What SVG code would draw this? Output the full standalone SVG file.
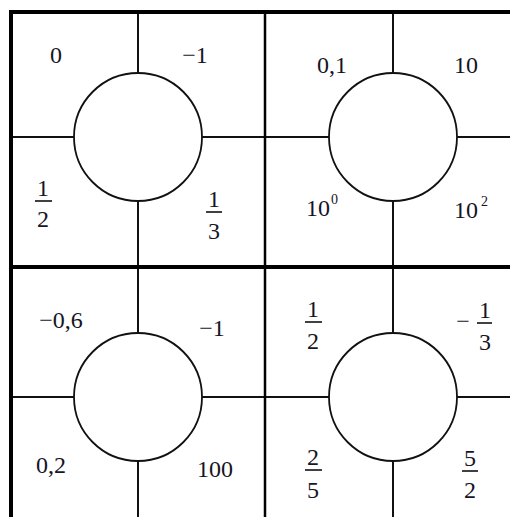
<svg xmlns="http://www.w3.org/2000/svg" width="510" height="517" viewBox="0 0 510 517">
<style>
.thick{stroke:#000;stroke-width:4;fill:none}
.mid{stroke:#000;stroke-width:2.5;fill:none}
.thin{stroke:#111;stroke-width:2;fill:none}
.circ{stroke:#111;stroke-width:1.8;fill:#fff}
.bar{stroke:#111;stroke-width:1.6}
text{font-family:"Liberation Serif","Times New Roman",serif;font-size:24px;fill:#151525;text-anchor:middle}
.sup{font-size:14px;text-anchor:start}
</style>
<rect width="510" height="517" fill="#fff"/>
<g id="connectors">
<line class="thin" x1="11" y1="137" x2="510" y2="137"/>
<line class="thin" x1="11" y1="397" x2="510" y2="397"/>
<line class="thin" x1="138" y1="12" x2="138" y2="517"/>
<line class="thin" x1="393" y1="12" x2="393" y2="517"/>
<line class="mid" x1="265" y1="12" x2="265" y2="517"/>
<line class="thick" x1="11" y1="267" x2="510" y2="267"/>
<line class="thick" x1="9" y1="12" x2="510" y2="12"/>
<line class="thick" x1="11" y1="10" x2="11" y2="517"/>
</g>
<g id="q1">
<circle class="circ" cx="138" cy="137" r="64"/>
<text x="56" y="63">0</text>
<text x="195" y="63">−1</text>
<text x="43" y="196">1</text><line class="bar" x1="35" y1="201" x2="52" y2="201"/><text x="43" y="227">2</text>
<text x="214" y="207">1</text><line class="bar" x1="206" y1="212" x2="222" y2="212"/><text x="214" y="239">3</text>
</g>
<g id="q2">
<circle class="circ" cx="393" cy="137" r="64"/>
<text x="332" y="73">0,1</text>
<text x="466" y="73">10</text>
<text x="318" y="216">10</text><text class="sup" x="331" y="204">0</text>
<text x="466" y="218">10</text><text class="sup" x="481" y="206">2</text>
</g>
<g id="q3">
<circle class="circ" cx="138" cy="397" r="64"/>
<text x="61" y="328">−0,6</text>
<text x="212" y="336">−1</text>
<text x="51" y="473">0,2</text>
<text x="215" y="477">100</text>
</g>
<g id="q4">
<circle class="circ" cx="393" cy="397" r="64"/>
<text x="313" y="317">1</text><line class="bar" x1="305" y1="322" x2="322" y2="322"/><text x="313" y="349">2</text>
<text x="463" y="329">−</text>
<text x="485" y="318">1</text><line class="bar" x1="477" y1="323" x2="492" y2="323"/><text x="485" y="350">3</text>
<text x="313" y="465">2</text><line class="bar" x1="305" y1="470" x2="322" y2="470"/><text x="313" y="498">5</text>
<text x="470" y="466">5</text><line class="bar" x1="462" y1="471" x2="478" y2="471"/><text x="470" y="498">2</text>
</g>
</svg>
